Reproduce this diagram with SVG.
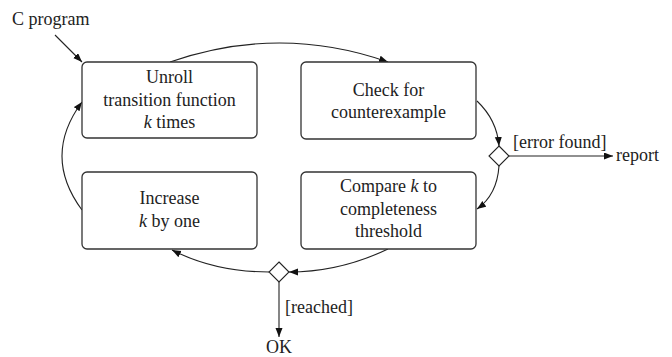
<svg xmlns="http://www.w3.org/2000/svg" width="672" height="357" viewBox="0 0 672 357">
<style>
.box{fill:#fff;stroke:#333;stroke-width:1.3}
.dia{fill:#fff;stroke:#222;stroke-width:1.1}
text{font-family:"Liberation Serif","DejaVu Serif",serif;font-size:18px;fill:#222}
.t{text-anchor:middle}
.c{fill:none;stroke:#222;stroke-width:1.1;marker-end:url(#ah)}
</style>
<defs>
<marker id="ah" markerUnits="userSpaceOnUse" markerWidth="10" markerHeight="8" refX="9" refY="3.5" orient="auto">
<path d="M0,0 L9,3.5 L0,7 z" fill="#111"/>
</marker>
</defs>
<rect width="672" height="357" fill="#fff"/>
<g id="connectors">
<path class="c" d="M55,35 L82,62"/>
<path class="c" d="M170,62 Q280,24 388,62"/>
<path class="c" d="M477,101 Q497,120 499,146"/>
<path class="c" d="M499,166 Q497,195 477,209"/>
<path class="c" d="M509,156 L613,156"/>
<path class="c" d="M388,249 Q340,272 289,272"/>
<path class="c" d="M269,272 Q215,272 172,250"/>
<path class="c" d="M279,282 L279,337"/>
<path class="c" d="M82,210 Q42,156 82,102"/>
</g>
<g id="input"><text x="12" y="25">C program</text></g>
<g id="unroll">
<rect class="box" x="82" y="62" width="175" height="76" rx="5"/>
<text class="t" x="169.5" y="83">Unroll</text>
<text class="t" x="169.5" y="105.5">transition function</text>
<text class="t" x="169.5" y="128"><tspan font-style="italic">k</tspan> times</text>
</g>
<g id="check">
<rect class="box" x="301" y="62" width="175" height="77" rx="5"/>
<text class="t" x="388.5" y="96">Check for</text>
<text class="t" x="388.5" y="118">counterexample</text>
</g>
<g id="increase">
<rect class="box" x="82" y="172" width="175" height="77" rx="5"/>
<text class="t" x="169.5" y="204">Increase</text>
<text class="t" x="169.5" y="227"><tspan font-style="italic">k</tspan> by one</text>
</g>
<g id="compare">
<rect class="box" x="301" y="172" width="175" height="77" rx="5"/>
<text class="t" x="388.5" y="192">Compare <tspan font-style="italic">k</tspan> to</text>
<text class="t" x="388.5" y="214.5">completeness</text>
<text class="t" x="388.5" y="237">threshold</text>
</g>
<g id="decision-error">
<path class="dia" d="M499,146 L509,156 L499,166 L489,156 z"/>
<text x="513" y="148">[error found]</text>
</g>
<g id="report"><text x="616" y="161">report</text></g>
<g id="decision-reached">
<path class="dia" d="M279,262 L289,272 L279,282 L269,272 z"/>
<text x="285" y="313">[reached]</text>
</g>
<g id="ok"><text class="t" x="279" y="353">OK</text></g>
</svg>
